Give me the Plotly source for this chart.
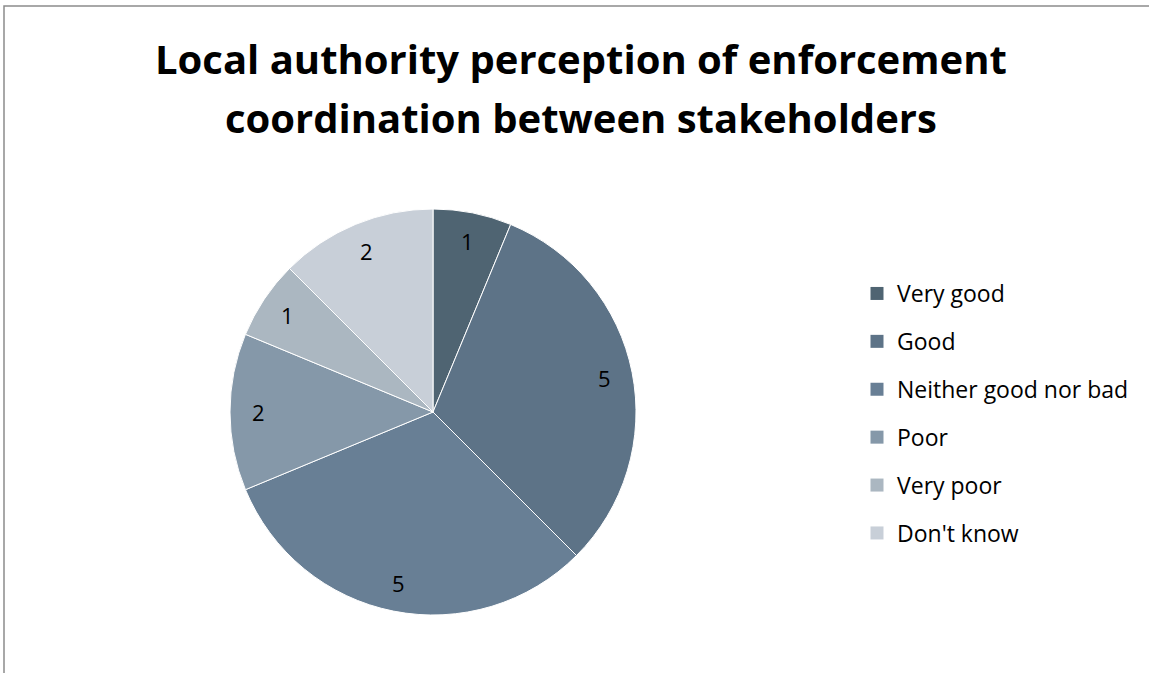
import math
import plotly.graph_objects as go

# Survey responses
categories = ["Very good", "Good", "Neither good nor bad", "Poor", "Very poor", "Don't know"]
counts = [1, 5, 5, 2, 1, 2]
colors = ["#4f6472", "#5d7387", "#687f95", "#8598a9", "#abb7c1", "#c8cfd8"]

title_lines = ["Local authority perception of enforcement", "coordination between stakeholders"]

W, H = 1149, 673
CX, CY, R = 433, 412, 203  # pie centre and radius in pixels
FONT = "Open Sans"

fig = go.Figure()

fig.add_trace(go.Pie(
    labels=categories,
    values=counts,
    sort=False,
    direction="clockwise",
    rotation=0,
    marker=dict(colors=colors, line=dict(color="#ffffff", width=1)),
    textinfo="none",
    hoverinfo="label+value",
    showlegend=False,
    domain=dict(x=[(CX - R) / W, (CX + R) / W], y=[(H - CY - R) / H, (H - CY + R) / H]),
))

# Value labels placed near the outer rim of each slice
total = sum(counts)
cum = 0
annotations = []
for v in counts:
    mid = (cum + v / 2) / total * 2 * math.pi
    cum += v
    r = 0.86 * R
    px = CX + r * math.sin(mid)
    py = CY - r * math.cos(mid)
    annotations.append(dict(
        x=px / W, y=1 - py / H, xref="paper", yref="paper",
        text=str(v), showarrow=False,
        font=dict(family=FONT, size=22, color="#000000"),
        xanchor="center", yanchor="middle",
    ))

# Two-line bold heading
for line, cy in zip(title_lines, [58, 117]):
    annotations.append(dict(
        x=581 / W, y=1 - cy / H, xref="paper", yref="paper",
        text="<b>" + line + "</b>", showarrow=False,
        font=dict(family=FONT, size=40, color="#000000"),
        xanchor="center", yanchor="middle",
    ))

# Legend entries, one group per category so the rows can be spaced out
for name, col in zip(categories, colors):
    fig.add_trace(go.Scatter(
        x=[None], y=[None], mode="markers", name=name,
        legendgroup=name,
        marker=dict(symbol="square", size=13, color=col),
        hoverinfo="skip",
    ))

fig.update_layout(
    width=W, height=H,
    margin=dict(l=0, r=0, t=0, b=0),
    paper_bgcolor="#ffffff",
    plot_bgcolor="#ffffff",
    xaxis=dict(visible=False),
    yaxis=dict(visible=False),
    showlegend=True,
    legend=dict(
        x=857 / W, xanchor="left",
        y=1 - 272 / H, yanchor="top",
        font=dict(family=FONT, size=23, color="#000000"),
        tracegroupgap=15,
        bgcolor="rgba(0,0,0,0)",
        itemsizing="trace",
    ),
    annotations=annotations,
    shapes=[dict(
        type="rect", xref="paper", yref="paper",
        x0=4 / W, x1=1.02, y0=-0.02, y1=1 - 6 / H,
        line=dict(color="#8c8c8c", width=1.5),
        fillcolor="rgba(0,0,0,0)", layer="above",
    )],
)

fig.write_html("out.html")
